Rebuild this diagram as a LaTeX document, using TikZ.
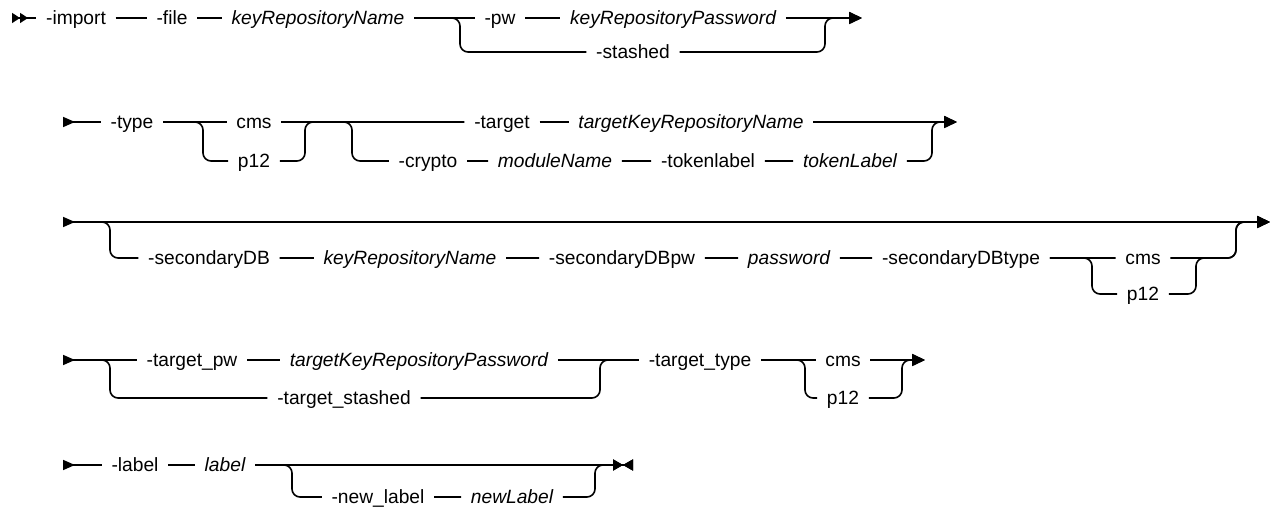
\documentclass[tikz,border=0pt]{standalone}
\usepackage{fontspec}
\setmainfont[Scale=0.96]{Liberation Sans}
\usetikzlibrary{arrows.meta}
\tikzset{
  kw/.style={inner xsep=4.5pt, inner ysep=2pt, text height=6.9pt, text depth=0pt},
  var/.style={kw, font=\itshape},
  altpath/.style={rounded corners=4pt},
  starter/.style={{Triangle[reversed,length=6pt,width=5pt]}-},
  fromto/.style={{Triangle[reversed,length=6pt,width=5pt]}-{Triangle[length=6.5pt,width=6pt]}},
  onto/.style={-{Triangle[length=6.5pt,width=6pt]}},
  launch/.style={{Triangle[reversed,length=4pt,width=5pt,sep=0pt]Triangle[reversed,length=4pt,width=5pt]}-},
  stopper/.style={-{Triangle[length=5pt,width=5.5pt,sep=0pt]Triangle[reversed,length=5pt,width=5.5pt]}}
}
\begin{document}
\begin{tikzpicture}[x=0.5pt, y=-0.5pt, line width=0.8pt]
\useasboundingbox (0,0) rectangle (1280,512);
% row 1
\coordinate (st1) at (12,18);
\node[kw] (imp) at (76,18) {-import};
\node[kw] (file) at (172,18) {-file};
\node[var] (krn) at (318,18) {keyRepositoryName};
\coordinate (s1) at (460,18);
\node[kw] (pw) at (500,18) {-pw};
\node[var] (kpw) at (673,18) {keyRepositoryPassword};
\node[kw] (stsh) at (633,52) {-stashed};
\coordinate (j1) at (825,18);
\coordinate (e1) at (862,18);
% row 2
\coordinate (st2) at (63,122);
\node[kw] (type) at (132,122) {-type};
\coordinate (s2) at (203,122);
\node[kw] (cms2) at (254,122) {cms};
\node[kw] (p12b) at (254,161) {p12};
\coordinate (j2) at (305,122);
\coordinate (s3) at (352,122);
\node[kw] (tgt) at (502,122) {-target};
\node[var] (tkrn) at (691,122) {targetKeyRepositoryName};
\node[kw] (crypto) at (428,161) {-crypto};
\node[var] (modn) at (555,161) {moduleName};
\node[kw] (tokl) at (708,161) {-tokenlabel};
\node[var] (tokL) at (850,161) {tokenLabel};
\coordinate (j3) at (932,122);
\coordinate (e2) at (957,122);
% row 3
\coordinate (st3) at (63,222);
\coordinate (s4) at (110,222);
\node[kw] (secdb) at (209,258) {-secondaryDB};
\node[var] (krn2) at (410,258) {keyRepositoryName};
\node[kw] (secpw) at (622,258) {-secondaryDBpw};
\node[var] (pwd) at (789,258) {password};
\node[kw] (sectype) at (961,258) {-secondaryDBtype};
\coordinate (s5) at (1092,258);
\node[kw] (cms3) at (1143,258) {cms};
\node[kw] (p12c) at (1143,294) {p12};
\coordinate (j4) at (1196,258);
\coordinate (j5) at (1236,222);
\coordinate (e3) at (1270,222);
% row 4
\coordinate (st4) at (63,360);
\coordinate (s6) at (110,360);
\node[kw] (tpw) at (192,360) {-target\_pw};
\node[var] (tkrp) at (419,360) {targetKeyRepositoryPassword};
\node[kw] (tstsh) at (344,398) {-target\_stashed};
\coordinate (j6) at (600,360);
\node[kw] (ttype) at (700,360) {-target\_type};
\coordinate (s7) at (805,360);
\node[kw] (cms4) at (843,360) {cms};
\node[kw] (p12d) at (843,398) {p12};
\coordinate (j7) at (902,360);
\coordinate (e4) at (925,360);
% row 5
\coordinate (st5) at (63,465);
\node[kw] (lbl) at (135,465) {-label};
\node[var] (lblv) at (225,465) {label};
\coordinate (s8) at (292,465);
\node[kw] (nlbl) at (378,497) {-new\_label};
\node[var] (nlblv) at (512,497) {newLabel};
\coordinate (j8) at (595,465);
\coordinate (e5) at (633,465);

\draw[launch] (st1) -- (imp);
\draw (imp) -- (file) -- (krn) -- (pw) -- (kpw);
\draw[onto] (kpw) -- (e1);
\draw[altpath, onto] (krn) -- (s1) |- (stsh) -| (j1) -- (e1);

\draw[starter] (st2) -- (type);
\draw (type) -- (cms2) -- (tgt) -- (tkrn);
\draw[onto] (tkrn) -- (e2);
\draw[altpath] (type) -- (s2) |- (p12b) -| (j2) -- (tgt);
\draw[altpath, onto] (cms2) -- (s3) |- (crypto) -- (modn) -- (tokl) -- (tokL) -| (j3) -- (e2);

\draw[fromto] (st3) -- (e3);
\draw[altpath, onto] (st3) -- (s4) |- (secdb) -- (krn2) -- (secpw) -- (pwd) -- (sectype) -- (cms3) -| (j5) -- (e3);
\draw[altpath, onto] (sectype) -- (s5) |- (p12c) -| (j4) -| (j5) -- (e3);

\draw[starter] (st4) -- (tpw);
\draw (tpw) -- (tkrp) -- (ttype) -- (cms4);
\draw[onto] (cms4) -- (e4);
\draw[altpath] (st4) -- (s6) |- (tstsh) -| (j6) -- (ttype);
\draw[altpath, onto] (ttype) -- (s7) |- (p12d) -| (j7) -- (e4);

\draw[starter] (st5) -- (lbl);
\draw (lbl) -- (lblv);
\draw[stopper] (lblv) -- (e5);
\draw[altpath, stopper] (lblv) -- (s8) |- (nlbl) -- (nlblv) -| (j8) -- (e5);
\end{tikzpicture}
\end{document}
